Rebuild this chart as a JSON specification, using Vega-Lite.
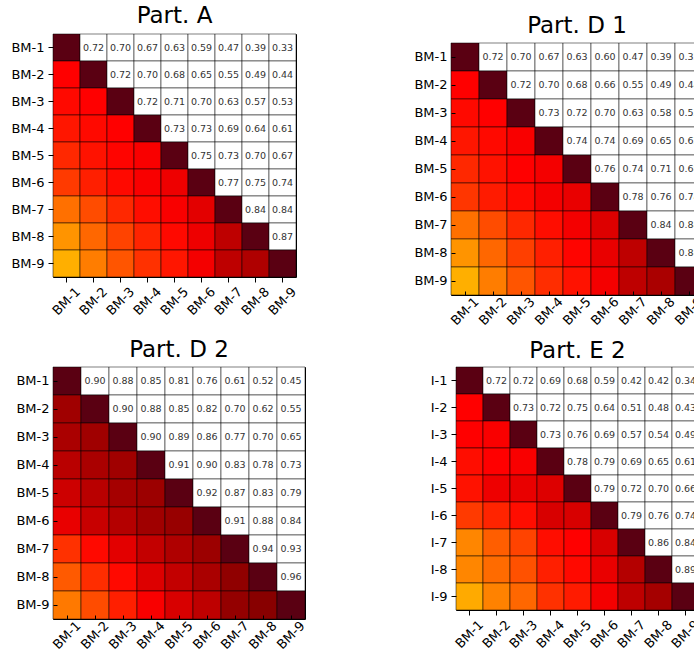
{
"$schema": "https://vega.github.io/schema/vega-lite/v6.json",
"background": "white",
"padding": {"left": 10, "top": 4, "right": 0, "bottom": 0},
"datasets": {
"A": [
{"r":"BM-1","c":"BM-1","v":1,"t":"d"},{"r":"BM-1","c":"BM-2","v":0.72,"t":"u"},{"r":"BM-1","c":"BM-3","v":0.70,"t":"u"},{"r":"BM-1","c":"BM-4","v":0.67,"t":"u"},{"r":"BM-1","c":"BM-5","v":0.63,"t":"u"},{"r":"BM-1","c":"BM-6","v":0.59,"t":"u"},{"r":"BM-1","c":"BM-7","v":0.47,"t":"u"},{"r":"BM-1","c":"BM-8","v":0.39,"t":"u"},{"r":"BM-1","c":"BM-9","v":0.33,"t":"u"},
{"r":"BM-2","c":"BM-1","v":0.72,"t":"l"},{"r":"BM-2","c":"BM-2","v":1,"t":"d"},{"r":"BM-2","c":"BM-3","v":0.72,"t":"u"},{"r":"BM-2","c":"BM-4","v":0.70,"t":"u"},{"r":"BM-2","c":"BM-5","v":0.68,"t":"u"},{"r":"BM-2","c":"BM-6","v":0.65,"t":"u"},{"r":"BM-2","c":"BM-7","v":0.55,"t":"u"},{"r":"BM-2","c":"BM-8","v":0.49,"t":"u"},{"r":"BM-2","c":"BM-9","v":0.44,"t":"u"},
{"r":"BM-3","c":"BM-1","v":0.70,"t":"l"},{"r":"BM-3","c":"BM-2","v":0.72,"t":"l"},{"r":"BM-3","c":"BM-3","v":1,"t":"d"},{"r":"BM-3","c":"BM-4","v":0.72,"t":"u"},{"r":"BM-3","c":"BM-5","v":0.71,"t":"u"},{"r":"BM-3","c":"BM-6","v":0.70,"t":"u"},{"r":"BM-3","c":"BM-7","v":0.63,"t":"u"},{"r":"BM-3","c":"BM-8","v":0.57,"t":"u"},{"r":"BM-3","c":"BM-9","v":0.53,"t":"u"},
{"r":"BM-4","c":"BM-1","v":0.67,"t":"l"},{"r":"BM-4","c":"BM-2","v":0.70,"t":"l"},{"r":"BM-4","c":"BM-3","v":0.72,"t":"l"},{"r":"BM-4","c":"BM-4","v":1,"t":"d"},{"r":"BM-4","c":"BM-5","v":0.73,"t":"u"},{"r":"BM-4","c":"BM-6","v":0.73,"t":"u"},{"r":"BM-4","c":"BM-7","v":0.69,"t":"u"},{"r":"BM-4","c":"BM-8","v":0.64,"t":"u"},{"r":"BM-4","c":"BM-9","v":0.61,"t":"u"},
{"r":"BM-5","c":"BM-1","v":0.63,"t":"l"},{"r":"BM-5","c":"BM-2","v":0.68,"t":"l"},{"r":"BM-5","c":"BM-3","v":0.71,"t":"l"},{"r":"BM-5","c":"BM-4","v":0.73,"t":"l"},{"r":"BM-5","c":"BM-5","v":1,"t":"d"},{"r":"BM-5","c":"BM-6","v":0.75,"t":"u"},{"r":"BM-5","c":"BM-7","v":0.73,"t":"u"},{"r":"BM-5","c":"BM-8","v":0.70,"t":"u"},{"r":"BM-5","c":"BM-9","v":0.67,"t":"u"},
{"r":"BM-6","c":"BM-1","v":0.59,"t":"l"},{"r":"BM-6","c":"BM-2","v":0.65,"t":"l"},{"r":"BM-6","c":"BM-3","v":0.70,"t":"l"},{"r":"BM-6","c":"BM-4","v":0.73,"t":"l"},{"r":"BM-6","c":"BM-5","v":0.75,"t":"l"},{"r":"BM-6","c":"BM-6","v":1,"t":"d"},{"r":"BM-6","c":"BM-7","v":0.77,"t":"u"},{"r":"BM-6","c":"BM-8","v":0.75,"t":"u"},{"r":"BM-6","c":"BM-9","v":0.74,"t":"u"},
{"r":"BM-7","c":"BM-1","v":0.47,"t":"l"},{"r":"BM-7","c":"BM-2","v":0.55,"t":"l"},{"r":"BM-7","c":"BM-3","v":0.63,"t":"l"},{"r":"BM-7","c":"BM-4","v":0.69,"t":"l"},{"r":"BM-7","c":"BM-5","v":0.73,"t":"l"},{"r":"BM-7","c":"BM-6","v":0.77,"t":"l"},{"r":"BM-7","c":"BM-7","v":1,"t":"d"},{"r":"BM-7","c":"BM-8","v":0.84,"t":"u"},{"r":"BM-7","c":"BM-9","v":0.84,"t":"u"},
{"r":"BM-8","c":"BM-1","v":0.39,"t":"l"},{"r":"BM-8","c":"BM-2","v":0.49,"t":"l"},{"r":"BM-8","c":"BM-3","v":0.57,"t":"l"},{"r":"BM-8","c":"BM-4","v":0.64,"t":"l"},{"r":"BM-8","c":"BM-5","v":0.70,"t":"l"},{"r":"BM-8","c":"BM-6","v":0.75,"t":"l"},{"r":"BM-8","c":"BM-7","v":0.84,"t":"l"},{"r":"BM-8","c":"BM-8","v":1,"t":"d"},{"r":"BM-8","c":"BM-9","v":0.87,"t":"u"},
{"r":"BM-9","c":"BM-1","v":0.33,"t":"l"},{"r":"BM-9","c":"BM-2","v":0.44,"t":"l"},{"r":"BM-9","c":"BM-3","v":0.53,"t":"l"},{"r":"BM-9","c":"BM-4","v":0.61,"t":"l"},{"r":"BM-9","c":"BM-5","v":0.67,"t":"l"},{"r":"BM-9","c":"BM-6","v":0.74,"t":"l"},{"r":"BM-9","c":"BM-7","v":0.84,"t":"l"},{"r":"BM-9","c":"BM-8","v":0.87,"t":"l"},{"r":"BM-9","c":"BM-9","v":1,"t":"d"}
],
"D1": [
{"r":"BM-1","c":"BM-1","v":1,"t":"d"},{"r":"BM-1","c":"BM-2","v":0.72,"t":"u"},{"r":"BM-1","c":"BM-3","v":0.70,"t":"u"},{"r":"BM-1","c":"BM-4","v":0.67,"t":"u"},{"r":"BM-1","c":"BM-5","v":0.63,"t":"u"},{"r":"BM-1","c":"BM-6","v":0.60,"t":"u"},{"r":"BM-1","c":"BM-7","v":0.47,"t":"u"},{"r":"BM-1","c":"BM-8","v":0.39,"t":"u"},{"r":"BM-1","c":"BM-9","v":0.33,"t":"u"},
{"r":"BM-2","c":"BM-1","v":0.72,"t":"l"},{"r":"BM-2","c":"BM-2","v":1,"t":"d"},{"r":"BM-2","c":"BM-3","v":0.72,"t":"u"},{"r":"BM-2","c":"BM-4","v":0.70,"t":"u"},{"r":"BM-2","c":"BM-5","v":0.68,"t":"u"},{"r":"BM-2","c":"BM-6","v":0.66,"t":"u"},{"r":"BM-2","c":"BM-7","v":0.55,"t":"u"},{"r":"BM-2","c":"BM-8","v":0.49,"t":"u"},{"r":"BM-2","c":"BM-9","v":0.44,"t":"u"},
{"r":"BM-3","c":"BM-1","v":0.70,"t":"l"},{"r":"BM-3","c":"BM-2","v":0.72,"t":"l"},{"r":"BM-3","c":"BM-3","v":1,"t":"d"},{"r":"BM-3","c":"BM-4","v":0.73,"t":"u"},{"r":"BM-3","c":"BM-5","v":0.72,"t":"u"},{"r":"BM-3","c":"BM-6","v":0.70,"t":"u"},{"r":"BM-3","c":"BM-7","v":0.63,"t":"u"},{"r":"BM-3","c":"BM-8","v":0.58,"t":"u"},{"r":"BM-3","c":"BM-9","v":0.53,"t":"u"},
{"r":"BM-4","c":"BM-1","v":0.67,"t":"l"},{"r":"BM-4","c":"BM-2","v":0.70,"t":"l"},{"r":"BM-4","c":"BM-3","v":0.73,"t":"l"},{"r":"BM-4","c":"BM-4","v":1,"t":"d"},{"r":"BM-4","c":"BM-5","v":0.74,"t":"u"},{"r":"BM-4","c":"BM-6","v":0.74,"t":"u"},{"r":"BM-4","c":"BM-7","v":0.69,"t":"u"},{"r":"BM-4","c":"BM-8","v":0.65,"t":"u"},{"r":"BM-4","c":"BM-9","v":0.62,"t":"u"},
{"r":"BM-5","c":"BM-1","v":0.63,"t":"l"},{"r":"BM-5","c":"BM-2","v":0.68,"t":"l"},{"r":"BM-5","c":"BM-3","v":0.72,"t":"l"},{"r":"BM-5","c":"BM-4","v":0.74,"t":"l"},{"r":"BM-5","c":"BM-5","v":1,"t":"d"},{"r":"BM-5","c":"BM-6","v":0.76,"t":"u"},{"r":"BM-5","c":"BM-7","v":0.74,"t":"u"},{"r":"BM-5","c":"BM-8","v":0.71,"t":"u"},{"r":"BM-5","c":"BM-9","v":0.68,"t":"u"},
{"r":"BM-6","c":"BM-1","v":0.60,"t":"l"},{"r":"BM-6","c":"BM-2","v":0.66,"t":"l"},{"r":"BM-6","c":"BM-3","v":0.70,"t":"l"},{"r":"BM-6","c":"BM-4","v":0.74,"t":"l"},{"r":"BM-6","c":"BM-5","v":0.76,"t":"l"},{"r":"BM-6","c":"BM-6","v":1,"t":"d"},{"r":"BM-6","c":"BM-7","v":0.78,"t":"u"},{"r":"BM-6","c":"BM-8","v":0.76,"t":"u"},{"r":"BM-6","c":"BM-9","v":0.74,"t":"u"},
{"r":"BM-7","c":"BM-1","v":0.47,"t":"l"},{"r":"BM-7","c":"BM-2","v":0.55,"t":"l"},{"r":"BM-7","c":"BM-3","v":0.63,"t":"l"},{"r":"BM-7","c":"BM-4","v":0.69,"t":"l"},{"r":"BM-7","c":"BM-5","v":0.74,"t":"l"},{"r":"BM-7","c":"BM-6","v":0.78,"t":"l"},{"r":"BM-7","c":"BM-7","v":1,"t":"d"},{"r":"BM-7","c":"BM-8","v":0.84,"t":"u"},{"r":"BM-7","c":"BM-9","v":0.84,"t":"u"},
{"r":"BM-8","c":"BM-1","v":0.39,"t":"l"},{"r":"BM-8","c":"BM-2","v":0.49,"t":"l"},{"r":"BM-8","c":"BM-3","v":0.58,"t":"l"},{"r":"BM-8","c":"BM-4","v":0.65,"t":"l"},{"r":"BM-8","c":"BM-5","v":0.71,"t":"l"},{"r":"BM-8","c":"BM-6","v":0.76,"t":"l"},{"r":"BM-8","c":"BM-7","v":0.84,"t":"l"},{"r":"BM-8","c":"BM-8","v":1,"t":"d"},{"r":"BM-8","c":"BM-9","v":0.88,"t":"u"},
{"r":"BM-9","c":"BM-1","v":0.33,"t":"l"},{"r":"BM-9","c":"BM-2","v":0.44,"t":"l"},{"r":"BM-9","c":"BM-3","v":0.53,"t":"l"},{"r":"BM-9","c":"BM-4","v":0.62,"t":"l"},{"r":"BM-9","c":"BM-5","v":0.68,"t":"l"},{"r":"BM-9","c":"BM-6","v":0.74,"t":"l"},{"r":"BM-9","c":"BM-7","v":0.84,"t":"l"},{"r":"BM-9","c":"BM-8","v":0.88,"t":"l"},{"r":"BM-9","c":"BM-9","v":1,"t":"d"}
],
"D2": [
{"r":"BM-1","c":"BM-1","v":1,"t":"d"},{"r":"BM-1","c":"BM-2","v":0.90,"t":"u"},{"r":"BM-1","c":"BM-3","v":0.88,"t":"u"},{"r":"BM-1","c":"BM-4","v":0.85,"t":"u"},{"r":"BM-1","c":"BM-5","v":0.81,"t":"u"},{"r":"BM-1","c":"BM-6","v":0.76,"t":"u"},{"r":"BM-1","c":"BM-7","v":0.61,"t":"u"},{"r":"BM-1","c":"BM-8","v":0.52,"t":"u"},{"r":"BM-1","c":"BM-9","v":0.45,"t":"u"},
{"r":"BM-2","c":"BM-1","v":0.90,"t":"l"},{"r":"BM-2","c":"BM-2","v":1,"t":"d"},{"r":"BM-2","c":"BM-3","v":0.90,"t":"u"},{"r":"BM-2","c":"BM-4","v":0.88,"t":"u"},{"r":"BM-2","c":"BM-5","v":0.85,"t":"u"},{"r":"BM-2","c":"BM-6","v":0.82,"t":"u"},{"r":"BM-2","c":"BM-7","v":0.70,"t":"u"},{"r":"BM-2","c":"BM-8","v":0.62,"t":"u"},{"r":"BM-2","c":"BM-9","v":0.55,"t":"u"},
{"r":"BM-3","c":"BM-1","v":0.88,"t":"l"},{"r":"BM-3","c":"BM-2","v":0.90,"t":"l"},{"r":"BM-3","c":"BM-3","v":1,"t":"d"},{"r":"BM-3","c":"BM-4","v":0.90,"t":"u"},{"r":"BM-3","c":"BM-5","v":0.89,"t":"u"},{"r":"BM-3","c":"BM-6","v":0.86,"t":"u"},{"r":"BM-3","c":"BM-7","v":0.77,"t":"u"},{"r":"BM-3","c":"BM-8","v":0.70,"t":"u"},{"r":"BM-3","c":"BM-9","v":0.65,"t":"u"},
{"r":"BM-4","c":"BM-1","v":0.85,"t":"l"},{"r":"BM-4","c":"BM-2","v":0.88,"t":"l"},{"r":"BM-4","c":"BM-3","v":0.90,"t":"l"},{"r":"BM-4","c":"BM-4","v":1,"t":"d"},{"r":"BM-4","c":"BM-5","v":0.91,"t":"u"},{"r":"BM-4","c":"BM-6","v":0.90,"t":"u"},{"r":"BM-4","c":"BM-7","v":0.83,"t":"u"},{"r":"BM-4","c":"BM-8","v":0.78,"t":"u"},{"r":"BM-4","c":"BM-9","v":0.73,"t":"u"},
{"r":"BM-5","c":"BM-1","v":0.81,"t":"l"},{"r":"BM-5","c":"BM-2","v":0.85,"t":"l"},{"r":"BM-5","c":"BM-3","v":0.89,"t":"l"},{"r":"BM-5","c":"BM-4","v":0.91,"t":"l"},{"r":"BM-5","c":"BM-5","v":1,"t":"d"},{"r":"BM-5","c":"BM-6","v":0.92,"t":"u"},{"r":"BM-5","c":"BM-7","v":0.87,"t":"u"},{"r":"BM-5","c":"BM-8","v":0.83,"t":"u"},{"r":"BM-5","c":"BM-9","v":0.79,"t":"u"},
{"r":"BM-6","c":"BM-1","v":0.76,"t":"l"},{"r":"BM-6","c":"BM-2","v":0.82,"t":"l"},{"r":"BM-6","c":"BM-3","v":0.86,"t":"l"},{"r":"BM-6","c":"BM-4","v":0.90,"t":"l"},{"r":"BM-6","c":"BM-5","v":0.92,"t":"l"},{"r":"BM-6","c":"BM-6","v":1,"t":"d"},{"r":"BM-6","c":"BM-7","v":0.91,"t":"u"},{"r":"BM-6","c":"BM-8","v":0.88,"t":"u"},{"r":"BM-6","c":"BM-9","v":0.84,"t":"u"},
{"r":"BM-7","c":"BM-1","v":0.61,"t":"l"},{"r":"BM-7","c":"BM-2","v":0.70,"t":"l"},{"r":"BM-7","c":"BM-3","v":0.77,"t":"l"},{"r":"BM-7","c":"BM-4","v":0.83,"t":"l"},{"r":"BM-7","c":"BM-5","v":0.87,"t":"l"},{"r":"BM-7","c":"BM-6","v":0.91,"t":"l"},{"r":"BM-7","c":"BM-7","v":1,"t":"d"},{"r":"BM-7","c":"BM-8","v":0.94,"t":"u"},{"r":"BM-7","c":"BM-9","v":0.93,"t":"u"},
{"r":"BM-8","c":"BM-1","v":0.52,"t":"l"},{"r":"BM-8","c":"BM-2","v":0.62,"t":"l"},{"r":"BM-8","c":"BM-3","v":0.70,"t":"l"},{"r":"BM-8","c":"BM-4","v":0.78,"t":"l"},{"r":"BM-8","c":"BM-5","v":0.83,"t":"l"},{"r":"BM-8","c":"BM-6","v":0.88,"t":"l"},{"r":"BM-8","c":"BM-7","v":0.94,"t":"l"},{"r":"BM-8","c":"BM-8","v":1,"t":"d"},{"r":"BM-8","c":"BM-9","v":0.96,"t":"u"},
{"r":"BM-9","c":"BM-1","v":0.45,"t":"l"},{"r":"BM-9","c":"BM-2","v":0.55,"t":"l"},{"r":"BM-9","c":"BM-3","v":0.65,"t":"l"},{"r":"BM-9","c":"BM-4","v":0.73,"t":"l"},{"r":"BM-9","c":"BM-5","v":0.79,"t":"l"},{"r":"BM-9","c":"BM-6","v":0.84,"t":"l"},{"r":"BM-9","c":"BM-7","v":0.93,"t":"l"},{"r":"BM-9","c":"BM-8","v":0.96,"t":"l"},{"r":"BM-9","c":"BM-9","v":1,"t":"d"}
],
"E2": [
{"r":"I-1","c":"BM-1","v":1,"t":"d"},{"r":"I-1","c":"BM-2","v":0.72,"t":"u"},{"r":"I-1","c":"BM-3","v":0.72,"t":"u"},{"r":"I-1","c":"BM-4","v":0.69,"t":"u"},{"r":"I-1","c":"BM-5","v":0.68,"t":"u"},{"r":"I-1","c":"BM-6","v":0.59,"t":"u"},{"r":"I-1","c":"BM-7","v":0.42,"t":"u"},{"r":"I-1","c":"BM-8","v":0.42,"t":"u"},{"r":"I-1","c":"BM-9","v":0.34,"t":"u"},
{"r":"I-2","c":"BM-1","v":0.72,"t":"l"},{"r":"I-2","c":"BM-2","v":1,"t":"d"},{"r":"I-2","c":"BM-3","v":0.73,"t":"u"},{"r":"I-2","c":"BM-4","v":0.72,"t":"u"},{"r":"I-2","c":"BM-5","v":0.75,"t":"u"},{"r":"I-2","c":"BM-6","v":0.64,"t":"u"},{"r":"I-2","c":"BM-7","v":0.51,"t":"u"},{"r":"I-2","c":"BM-8","v":0.48,"t":"u"},{"r":"I-2","c":"BM-9","v":0.43,"t":"u"},
{"r":"I-3","c":"BM-1","v":0.72,"t":"l"},{"r":"I-3","c":"BM-2","v":0.73,"t":"l"},{"r":"I-3","c":"BM-3","v":1,"t":"d"},{"r":"I-3","c":"BM-4","v":0.73,"t":"u"},{"r":"I-3","c":"BM-5","v":0.76,"t":"u"},{"r":"I-3","c":"BM-6","v":0.69,"t":"u"},{"r":"I-3","c":"BM-7","v":0.57,"t":"u"},{"r":"I-3","c":"BM-8","v":0.54,"t":"u"},{"r":"I-3","c":"BM-9","v":0.49,"t":"u"},
{"r":"I-4","c":"BM-1","v":0.69,"t":"l"},{"r":"I-4","c":"BM-2","v":0.72,"t":"l"},{"r":"I-4","c":"BM-3","v":0.73,"t":"l"},{"r":"I-4","c":"BM-4","v":1,"t":"d"},{"r":"I-4","c":"BM-5","v":0.78,"t":"u"},{"r":"I-4","c":"BM-6","v":0.79,"t":"u"},{"r":"I-4","c":"BM-7","v":0.69,"t":"u"},{"r":"I-4","c":"BM-8","v":0.65,"t":"u"},{"r":"I-4","c":"BM-9","v":0.61,"t":"u"},
{"r":"I-5","c":"BM-1","v":0.68,"t":"l"},{"r":"I-5","c":"BM-2","v":0.75,"t":"l"},{"r":"I-5","c":"BM-3","v":0.76,"t":"l"},{"r":"I-5","c":"BM-4","v":0.78,"t":"l"},{"r":"I-5","c":"BM-5","v":1,"t":"d"},{"r":"I-5","c":"BM-6","v":0.79,"t":"u"},{"r":"I-5","c":"BM-7","v":0.72,"t":"u"},{"r":"I-5","c":"BM-8","v":0.70,"t":"u"},{"r":"I-5","c":"BM-9","v":0.66,"t":"u"},
{"r":"I-6","c":"BM-1","v":0.59,"t":"l"},{"r":"I-6","c":"BM-2","v":0.64,"t":"l"},{"r":"I-6","c":"BM-3","v":0.69,"t":"l"},{"r":"I-6","c":"BM-4","v":0.79,"t":"l"},{"r":"I-6","c":"BM-5","v":0.79,"t":"l"},{"r":"I-6","c":"BM-6","v":1,"t":"d"},{"r":"I-6","c":"BM-7","v":0.79,"t":"u"},{"r":"I-6","c":"BM-8","v":0.76,"t":"u"},{"r":"I-6","c":"BM-9","v":0.74,"t":"u"},
{"r":"I-7","c":"BM-1","v":0.42,"t":"l"},{"r":"I-7","c":"BM-2","v":0.51,"t":"l"},{"r":"I-7","c":"BM-3","v":0.57,"t":"l"},{"r":"I-7","c":"BM-4","v":0.69,"t":"l"},{"r":"I-7","c":"BM-5","v":0.72,"t":"l"},{"r":"I-7","c":"BM-6","v":0.79,"t":"l"},{"r":"I-7","c":"BM-7","v":1,"t":"d"},{"r":"I-7","c":"BM-8","v":0.86,"t":"u"},{"r":"I-7","c":"BM-9","v":0.84,"t":"u"},
{"r":"I-8","c":"BM-1","v":0.42,"t":"l"},{"r":"I-8","c":"BM-2","v":0.48,"t":"l"},{"r":"I-8","c":"BM-3","v":0.54,"t":"l"},{"r":"I-8","c":"BM-4","v":0.65,"t":"l"},{"r":"I-8","c":"BM-5","v":0.70,"t":"l"},{"r":"I-8","c":"BM-6","v":0.76,"t":"l"},{"r":"I-8","c":"BM-7","v":0.86,"t":"l"},{"r":"I-8","c":"BM-8","v":1,"t":"d"},{"r":"I-8","c":"BM-9","v":0.89,"t":"u"},
{"r":"I-9","c":"BM-1","v":0.34,"t":"l"},{"r":"I-9","c":"BM-2","v":0.43,"t":"l"},{"r":"I-9","c":"BM-3","v":0.49,"t":"l"},{"r":"I-9","c":"BM-4","v":0.61,"t":"l"},{"r":"I-9","c":"BM-5","v":0.66,"t":"l"},{"r":"I-9","c":"BM-6","v":0.74,"t":"l"},{"r":"I-9","c":"BM-7","v":0.84,"t":"l"},{"r":"I-9","c":"BM-8","v":0.89,"t":"l"},{"r":"I-9","c":"BM-9","v":1,"t":"d"}
]
},
"spacing": 9,
"vconcat": [
{
"spacing": 113,
"hconcat": [
{
"title": {"text": "Part. A", "offset": 6, "anchor": "middle"},
"width": 243, "height": 243,
"data": {"name": "A"},
"encoding": {
"x": {"field": "c", "type": "nominal", "axis": {"title": null, "labelAngle": -45, "labelAlign": "center", "labelBaseline": "middle", "labelPadding": 19, "tickSize": 5}},
"y": {"field": "r", "type": "nominal", "axis": {"title": null, "tickSize": 5, "labelPadding": 4}}
},
"layer": [
{"mark": {"type": "rect", "stroke": "black", "strokeOpacity": 0.5, "strokeWidth": 1},
"encoding": {
"color": {"field": "v", "type": "quantitative", "legend": null, "condition": {"test": "datum.t === 'u'", "value": "white"},
"scale": {"domain": [0.3, 0.72, 0.8, 0.9, 0.96, 0.99, 1.0], "range": ["#ffbc00", "#ff0000", "#d20000", "#a00000", "#880000", "#800000", "#5a0012"], "interpolate": "rgb"}}
}},
{"transform": [{"filter": "datum.t === 'u'"}],
"mark": {"type": "text", "fontSize": 9.5, "color": "#333333"},
"encoding": {"text": {"field": "v", "type": "quantitative", "format": ".2f"}}}
]
},
{
"spacing": -21,
"vconcat": [
{
"width": 1, "height": 1,
"data": {"values": [{"s": 0}]},
"mark": {"type": "rect", "opacity": 0},
"view": {"stroke": null}
},
{
"title": {"text": "Part. D 1", "offset": 5, "anchor": "middle"},
"width": 252, "height": 252,
"data": {"name": "D1"},
"resolve": {"axis": {"x": "independent", "y": "independent"}},
"encoding": {
"x": {"field": "c", "type": "nominal", "axis": {"title": null, "labelAngle": -45, "labelAlign": "center", "labelBaseline": "middle", "labelPadding": 20, "tickSize": -4}},
"y": {"field": "r", "type": "nominal", "axis": {"title": null, "tickSize": -4, "labelPadding": 8}}
},
"layer": [
{"mark": {"type": "rect", "stroke": "black", "strokeOpacity": 0.5, "strokeWidth": 1},
"encoding": {
"color": {"field": "v", "type": "quantitative", "legend": null, "condition": {"test": "datum.t === 'u'", "value": "white"},
"scale": {"domain": [0.3, 0.72, 0.8, 0.9, 0.96, 0.99, 1.0], "range": ["#ffbc00", "#ff0000", "#d20000", "#a00000", "#880000", "#800000", "#5a0012"], "interpolate": "rgb"}}
}},
{"transform": [{"filter": "datum.t === 'u'"}],
"mark": {"type": "text", "fontSize": 9.5, "color": "#333333"},
"encoding": {
"x": {"field": "c", "type": "nominal", "axis": {"title": null, "orient": "top", "labels": false, "tickSize": -4}},
"y": {"field": "r", "type": "nominal", "axis": {"title": null, "orient": "right", "labels": false, "tickSize": -4}},
"text": {"field": "v", "type": "quantitative", "format": ".2f"}
}}
]
}
]
}
]
},
{
"spacing": 121,
"hconcat": [
{
"title": {"text": "Part. D 2", "offset": 5, "anchor": "middle"},
"width": 252, "height": 252,
"data": {"name": "D2"},
"resolve": {"axis": {"x": "independent", "y": "independent"}},
"encoding": {
"x": {"field": "c", "type": "nominal", "axis": {"title": null, "labelAngle": -45, "labelAlign": "center", "labelBaseline": "middle", "labelPadding": 20, "tickSize": -4}},
"y": {"field": "r", "type": "nominal", "axis": {"title": null, "tickSize": -4, "labelPadding": 8}}
},
"layer": [
{"mark": {"type": "rect", "stroke": "black", "strokeOpacity": 0.5, "strokeWidth": 1},
"encoding": {
"color": {"field": "v", "type": "quantitative", "legend": null, "condition": {"test": "datum.t === 'u'", "value": "white"},
"scale": {"domain": [0.3, 0.72, 0.8, 0.9, 0.96, 0.99, 1.0], "range": ["#ffbc00", "#ff0000", "#d20000", "#a00000", "#880000", "#800000", "#5a0012"], "interpolate": "rgb"}}
}},
{"transform": [{"filter": "datum.t === 'u'"}],
"mark": {"type": "text", "fontSize": 9.5, "color": "#333333"},
"encoding": {
"x": {"field": "c", "type": "nominal", "axis": {"title": null, "orient": "top", "labels": false, "tickSize": -4}},
"y": {"field": "r", "type": "nominal", "axis": {"title": null, "orient": "right", "labels": false, "tickSize": -4}},
"text": {"field": "v", "type": "quantitative", "format": ".2f"}
}}
]
},
{
"title": {"text": "Part. E 2", "offset": 4, "anchor": "middle"},
"width": 243, "height": 243,
"data": {"name": "E2"},
"encoding": {
"x": {"field": "c", "type": "nominal", "axis": {"title": null, "labelAngle": -45, "labelAlign": "center", "labelBaseline": "middle", "labelPadding": 19, "tickSize": 5}},
"y": {"field": "r", "type": "nominal", "axis": {"title": null, "tickSize": 5, "labelPadding": 4}}
},
"layer": [
{"mark": {"type": "rect", "stroke": "black", "strokeOpacity": 0.5, "strokeWidth": 1},
"encoding": {
"color": {"field": "v", "type": "quantitative", "legend": null, "condition": {"test": "datum.t === 'u'", "value": "white"},
"scale": {"domain": [0.3, 0.72, 0.8, 0.9, 0.96, 0.99, 1.0], "range": ["#ffbc00", "#ff0000", "#d20000", "#a00000", "#880000", "#800000", "#5a0012"], "interpolate": "rgb"}}
}},
{"transform": [{"filter": "datum.t === 'u'"}],
"mark": {"type": "text", "fontSize": 9.5, "color": "#333333"},
"encoding": {"text": {"field": "v", "type": "quantitative", "format": ".2f"}}}
]
}
]
}
],
"config": {
"view": {"stroke": "black", "strokeWidth": 1},
"axis": {"labelFont": "DejaVu Sans", "labelFontSize": 13, "labelColor": "black", "tickColor": "black", "tickWidth": 1, "domain": false, "grid": false},
"title": {"font": "DejaVu Sans", "fontSize": 23, "fontWeight": "normal", "color": "black", "anchor": "middle", "frame": "group", "baseline": "alphabetic"},
"text": {"font": "DejaVu Sans"}
}
}
